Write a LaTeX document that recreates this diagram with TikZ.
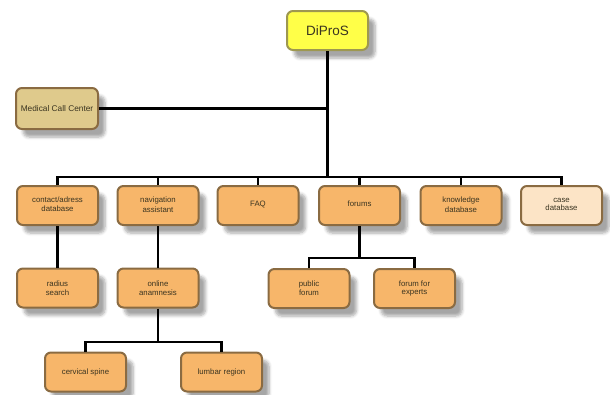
\documentclass[tikz,border=0pt]{standalone}
\usepackage{fontspec}
\setmainfont{Liberation Sans}
\usetikzlibrary{shadows.blur}
\definecolor{orfill}{HTML}{F7B66A}
\definecolor{orline}{HTML}{8A6B42}
\definecolor{tanfill}{HTML}{DFCA8C}
\definecolor{casefill}{HTML}{FCE4C6}
\definecolor{yfill}{HTML}{FFFF48}
\definecolor{yline}{HTML}{9E9850}
\definecolor{txt}{HTML}{3A3420}
\tikzset{
  box/.style={draw=orline, fill=orfill, line width=2pt, rounded corners=6pt,
    minimum width=81pt, minimum height=39pt, align=center, text=txt,
    font=\fontsize{7.8}{8.6}\selectfont, inner sep=1pt,
    blur shadow={shadow xshift=7pt, shadow yshift=-8pt, shadow blur steps=6,
      shadow blur radius=3pt, shadow opacity=35}},
  conn/.style={line width=2.5pt, black}
}
\begin{document}
\begin{tikzpicture}[x=1pt,y=-1pt]
\useasboundingbox (0,0) rectangle (610,394);
% top
\node[box, draw=yline, fill=yfill, font=\fontsize{13.5}{14}\selectfont] (dipros) at (327.5,30.5) {DiProS};
\node[box, fill=tanfill, minimum width=82pt, minimum height=41pt, font=\fontsize{8.3}{9}\selectfont, inner sep=0pt] (mcc) at (57,108.5) {Medical Call Center};
% row 1
\node[box] (contact) at (57.5,205.5) {\raisebox{2pt}{\shortstack{contact/adress\\database}}};
\node[box] (nav) at (158,205.5) {\raisebox{2pt}{\shortstack{navigation\\assistant}}};
\node[box] (faq) at (258,205.5) {\raisebox{4pt}{FAQ}};
\node[box] (forums) at (359.5,205.5) {\raisebox{4pt}{forums}};
\node[box] (know) at (461,205.5) {\raisebox{2pt}{\shortstack{knowledge\\database}}};
\node[box, fill=casefill] (case) at (561.5,205.5) {\raisebox{2pt}{\shortstack{case\\database}}};
% row 2
\node[box] (radius) at (57.5,288) {radius\\search};
\node[box] (online) at (158,288) {online\\anamnesis};
\node[box] (public) at (309,288.5) {public\\forum};
\node[box] (experts) at (414.5,288.5) {forum for\\experts};
% row 3
\node[box] (cerv) at (85.5,372) {cervical spine};
\node[box] (lumb) at (221.5,372) {lumbar region};
% buses
\coordinate (bus) at (0,177);
\coordinate (fbus) at (0,258);
\coordinate (obus) at (0,342);
\draw[conn] (dipros.south) -- (dipros.south |- bus);
\draw[conn] (mcc.east) -- (mcc.east -| dipros.south);
\draw[conn] (contact.north) -- (contact.north |- bus) -- (case.north |- bus) -- (case.north);
\foreach \n in {nav,faq,forums,know} \draw[conn] (\n.north) -- (\n.north |- bus);
\draw[conn] (contact.south) -- (radius.north);
\draw[conn] (nav.south) -- (online.north);
\draw[conn] (forums.south) -- (forums.south |- fbus);
\draw[conn] (public.north) -- (public.north |- fbus) -- (experts.north |- fbus) -- (experts.north);
\draw[conn] (online.south) -- (online.south |- obus);
\draw[conn] (cerv.north) -- (cerv.north |- obus) -- (lumb.north |- obus) -- (lumb.north);
\end{tikzpicture}
\end{document}
